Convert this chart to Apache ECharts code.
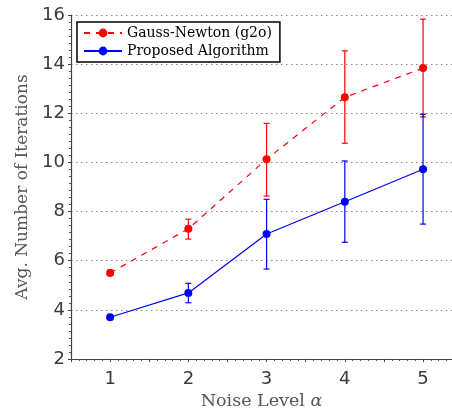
<!DOCTYPE html>
<html>
<head>
<meta charset="utf-8">
<script src="https://cdn.jsdelivr.net/npm/echarts@6/dist/echarts.min.js"></script>
<style>
  html, body { margin: 0; padding: 0; background: #fff; }
  #chart { width: 452px; height: 409px; }
</style>
</head>
<body>
<div id="chart"></div>
<script>
// noise levels
var noiseLevels = [1, 2, 3, 4, 5];

// Gauss-Newton (g2o): mean and error bar ends
var gnMean = [5.5, 7.3, 10.13, 12.65, 13.84];
var gnLow = [5.42, 6.88, 8.63, 10.78, 11.85];
var gnHigh = [5.62, 7.69, 11.59, 14.54, 15.83];

// Proposed algorithm
var propMean = [3.7, 4.69, 7.09, 8.4, 9.72];
var propLow = [3.68, 4.29, 5.66, 6.75, 7.49];
var propHigh = [3.72, 5.08, 8.5, 10.06, 11.96];

var yTicks = [2, 4, 6, 8, 10, 12, 14, 16];

var serif = '"DejaVu Serif", "Liberation Serif", serif';
var sans = '"DejaVu Sans", "Liberation Sans", sans-serif';

function pairs(xs, ys) {
  return xs.map(function (x, i) { return [x, ys[i]]; });
}

function errRows(xs, lo, hi) {
  return xs.map(function (x, i) { return [x, lo[i], hi[i]]; });
}

function errorBars(color) {
  return function (params, api) {
    var x = api.value(0);
    var top = api.coord([x, api.value(2)]);
    var bot = api.coord([x, api.value(1)]);
    var half = 3;
    var style = { stroke: color, lineWidth: 1.2, fill: null };
    return {
      type: 'group',
      children: [
        { type: 'line', shape: { x1: top[0], y1: top[1], x2: bot[0], y2: bot[1] }, style: style },
        { type: 'line', shape: { x1: top[0] - half, y1: top[1], x2: top[0] + half, y2: top[1] }, style: style },
        { type: 'line', shape: { x1: bot[0] - half, y1: bot[1], x2: bot[0] + half, y2: bot[1] }, style: style }
      ]
    };
  };
}

var myChart = echarts.init(document.getElementById('chart'), null, { renderer: 'canvas' });

var option = {
  animation: false,
  backgroundColor: '#ffffff',
  grid: { left: 71, top: 15, right: 0, bottom: 50, containLabel: false, outerBoundsMode: 'none' },
  legend: {
    data: ['Gauss-Newton (g2o)', 'Proposed Algorithm'],
    orient: 'vertical',
    left: 77,
    top: 22,
    padding: [3, 8, 3, 6],
    itemWidth: 38,
    itemHeight: 11,
    itemGap: 2,
    backgroundColor: '#ffffff',
    borderColor: '#000000',
    borderWidth: 1.5,
    borderRadius: 0,
    textStyle: { fontFamily: serif, fontSize: 14, color: '#000', lineHeight: 16 }
  },
  xAxis: {
    type: 'value',
    min: 0.5,
    max: 5.37,
    interval: 0.5,
    name: '{n|Noise Level }{a|α}',
    nameLocation: 'middle',
    nameGap: 31,
    nameTextStyle: {
      rich: {
        n: { fontFamily: serif, fontSize: 17.5, color: '#555' },
        a: { fontFamily: serif, fontSize: 17.5, fontStyle: 'italic', color: '#555' }
      }
    },
    axisLine: { show: true, lineStyle: { color: '#444', width: 1.2 } },
    axisTick: { show: true, length: 3, inside: false, lineStyle: { color: '#444' } },
    minorTick: { show: true, splitNumber: 5, length: 2, lineStyle: { color: '#555' } },
    axisLabel: {
      fontFamily: sans, fontSize: 18, color: '#3a3a3a', margin: 11,
      formatter: function (v) { return Number.isInteger(v) && v >= 1 && v <= 5 ? String(v) : ''; }
    },
    splitLine: { show: false }
  },
  yAxis: {
    type: 'value',
    min: 2,
    max: 16,
    interval: 2,
    name: 'Avg. Number of Iterations',
    nameLocation: 'middle',
    nameGap: 20,
    nameTextStyle: { fontFamily: serif, fontSize: 17, color: '#555' },
    axisLine: { show: true, lineStyle: { color: '#444', width: 1.2 } },
    axisTick: { show: true, length: 3, inside: false, lineStyle: { color: '#444' } },
    minorTick: { show: true, splitNumber: 7, length: 2, lineStyle: { color: '#555' } },
    axisLabel: {
      fontFamily: sans, fontSize: 18, color: '#3a3a3a', margin: 6,
      formatter: function (v) { return yTicks.indexOf(v) >= 0 ? String(v) : ''; }
    },
    splitLine: { show: true, lineStyle: { color: '#888', type: [1.5, 3.5], width: 1 } }
  },
  series: [
    {
      type: 'custom',
      name: 'gnErr',
      renderItem: errorBars('#ff0000'),
      data: errRows(noiseLevels, gnLow, gnHigh),
      encode: { x: 0, y: [1, 2] },
      z: 1,
      silent: true
    },
    {
      type: 'custom',
      name: 'propErr',
      renderItem: errorBars('#0000ff'),
      data: errRows(noiseLevels, propLow, propHigh),
      encode: { x: 0, y: [1, 2] },
      z: 1,
      silent: true
    },
    {
      type: 'line',
      name: 'Gauss-Newton (g2o)',
      data: pairs(noiseLevels, gnMean),
      symbol: 'circle',
      symbolSize: 8,
      itemStyle: { color: '#ff0000' },
      lineStyle: { color: '#ff0000', width: 1.2, type: [6, 6] },
      z: 3
    },
    {
      type: 'line',
      name: 'Proposed Algorithm',
      data: pairs(noiseLevels, propMean),
      symbol: 'circle',
      symbolSize: 8,
      itemStyle: { color: '#0000ff' },
      lineStyle: { color: '#0000ff', width: 1.2 },
      z: 3
    }
  ]
};

myChart.setOption(option);
</script>
</body>
</html>
